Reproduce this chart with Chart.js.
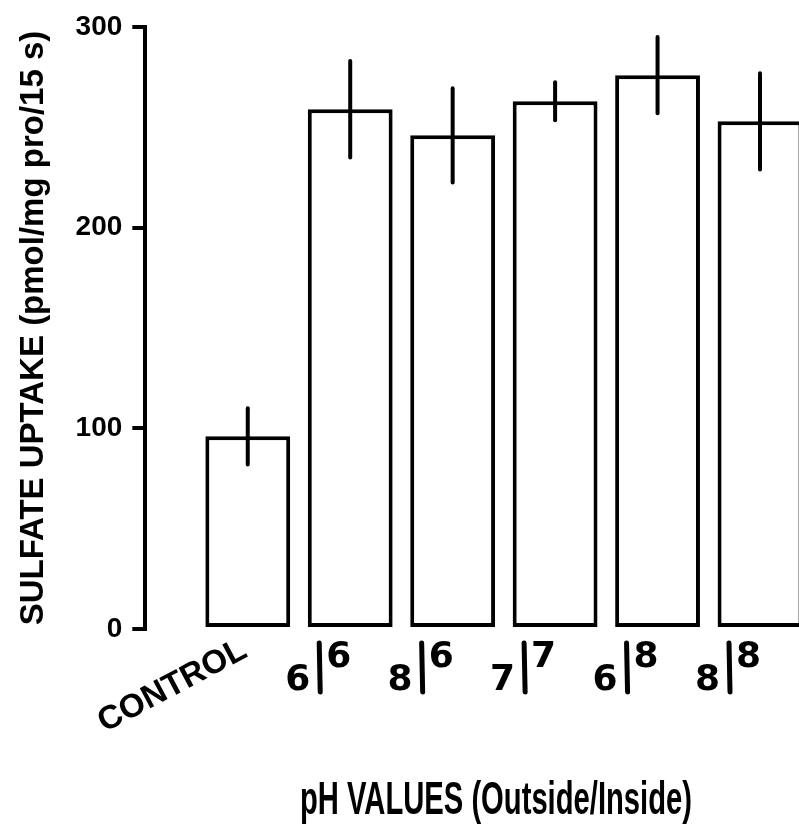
<!DOCTYPE html>
<html>
<head>
<meta charset="utf-8">
<script src="https://cdn.jsdelivr.net/npm/chart.js@4/dist/chart.umd.min.js"></script>
<style>
  html, body { margin: 0; padding: 0; background: #fff; }
  canvas { display: block; }
</style>
</head>
<body>
<canvas id="chart-uptake" width="799" height="830"></canvas>
<script>
// pH outside / inside for each vesicle condition
const CATEGORIES = ['CONTROL', '6/6', '8/6', '7/7', '6/8', '8/8'];
const UPTAKE = [96, 259, 246, 263, 276, 253];
const UPTAKE_ERR = [14, 24, 23.5, 9.5, 19, 24];
const Y_TICKS = [0, 100, 200, 300];

const INK = '#000';
const X_TITLE = 'pH VALUES (Outside/Inside)';
const X_TITLE_WIDTH = 392;

// vertical error bars drawn from the bar value +/- error through the y scale
const errorBars = {
  id: 'errorBars',
  afterDatasetsDraw(chart) {
    const meta = chart.getDatasetMeta(0);
    const y = chart.scales.y;
    const ctx = chart.ctx;
    ctx.save();
    ctx.strokeStyle = INK;
    ctx.lineWidth = 4;
    ctx.lineCap = 'round';
    meta.data.forEach((bar, i) => {
      const v = chart.data.datasets[0].data[i];
      if (v == null) return;
      const e = UPTAKE_ERR[i - 1];
      ctx.beginPath();
      ctx.moveTo(bar.x, y.getPixelForValue(v + e));
      ctx.lineTo(bar.x, y.getPixelForValue(v - e));
      ctx.stroke();
    });
    ctx.restore();
  }
};

// slanted category labels; the pH pairs are written as outside|inside with a raised inside value
const categoryLabels = {
  id: 'categoryLabels',
  afterDraw(chart) {
    const x = chart.scales.x;
    const ctx = chart.ctx;
    ctx.save();
    ctx.fillStyle = INK;
    ctx.strokeStyle = INK;
    CATEGORIES.forEach((name, i) => {
      const px = x.getPixelForValue(i + 1);
      if (name.indexOf('/') < 0) {
        ctx.save();
        ctx.translate(px + 1, 656);
        ctx.rotate(-28 * Math.PI / 180);
        ctx.font = 'bold 33px "Liberation Sans", Arial, sans-serif';
        ctx.textAlign = 'right';
        ctx.textBaseline = 'alphabetic';
        ctx.fillText(name, 0, 0);
        ctx.restore();
        return;
      }
      const [outside, inside] = name.split('/');
      ctx.font = 'bold 36px "DejaVu Sans", sans-serif';
      ctx.textBaseline = 'alphabetic';
      ctx.textAlign = 'right';
      ctx.fillText(outside, px - 40, 690);
      ctx.lineWidth = 5;
      ctx.lineCap = 'round';
      ctx.beginPath();
      ctx.moveTo(px - 31, 643);
      ctx.lineTo(px - 30, 692);
      ctx.stroke();
      ctx.textAlign = 'left';
      ctx.fillText(inside, px - 24, 667);
    });

    // x axis title, narrow lettering
    ctx.save();
    ctx.font = 'bold 46px "Liberation Sans", Arial, sans-serif';
    ctx.textAlign = 'center';
    ctx.textBaseline = 'alphabetic';
    ctx.translate(496, 814);
    ctx.scale(X_TITLE_WIDTH / ctx.measureText(X_TITLE).width, 1);
    ctx.fillText(X_TITLE, 0, 0);
    ctx.restore();
    ctx.restore();
  }
};

new Chart(document.getElementById('chart-uptake'), {
  type: 'bar',
  data: {
    labels: [''].concat(CATEGORIES),
    datasets: [{
      data: [null].concat(UPTAKE),
      backgroundColor: '#fff',
      borderColor: INK,
      borderWidth: 4,
      borderSkipped: false,
      barPercentage: 0.92,
      categoryPercentage: 0.9,
      clip: false
    }]
  },
  options: {
    responsive: false,
    animation: false,
    layout: { padding: { top: 27, right: 39, bottom: 193, left: 0 } },
    plugins: {
      legend: { display: false },
      tooltip: { enabled: false }
    },
    scales: {
      x: {
        type: 'category',
        offset: false,
        grid: { display: false },
        border: { display: false },
        ticks: { display: false }
      },
      y: {
        min: 0,
        max: 300,
        afterBuildTicks: (s) => { s.ticks = Y_TICKS.map(v => ({ value: v })); },
        grid: { drawOnChartArea: false, color: INK, lineWidth: 4, tickLength: 13 },
        border: { color: INK, width: 4 },
        ticks: {
          color: INK,
          padding: 10,
          font: { family: '"Liberation Sans", Arial, sans-serif', size: 28, weight: 'bold' }
        },
        title: {
          display: true,
          text: 'SULFATE UPTAKE (pmol/mg pro/15 s)',
          color: INK,
          font: { family: '"Liberation Sans", Arial, sans-serif', size: 33, weight: 'bold' },
          padding: { top: 14, bottom: 12 }
        }
      }
    }
  },
  plugins: [errorBars, categoryLabels]
});
</script>
</body>
</html>
